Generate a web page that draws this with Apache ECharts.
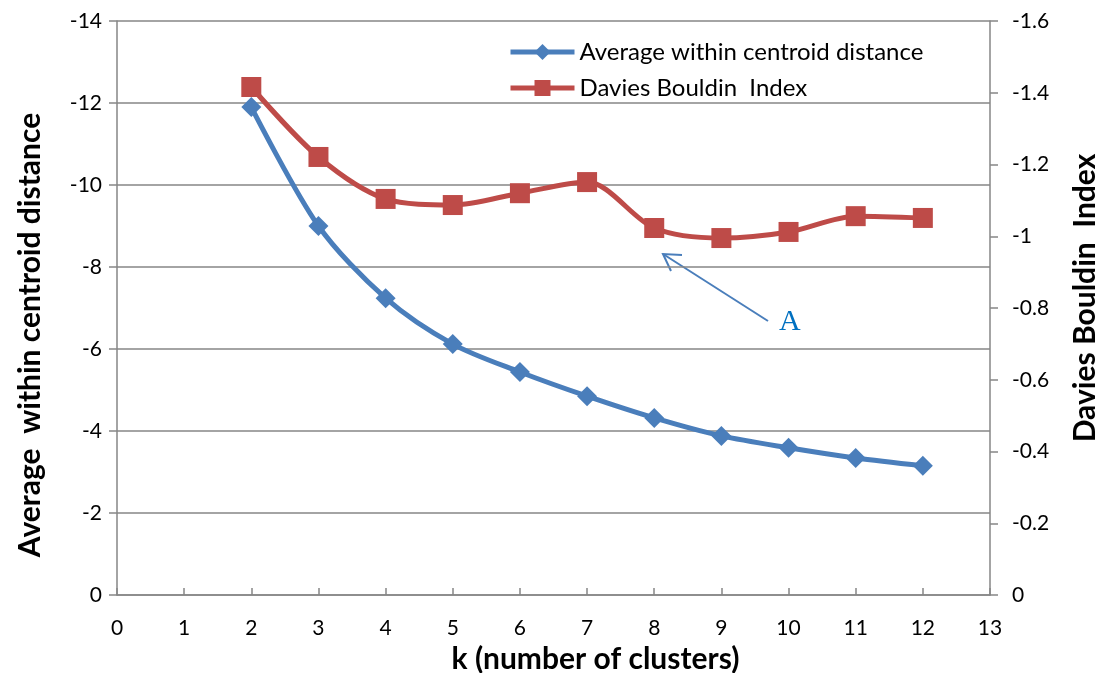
<!DOCTYPE html>
<html><head><meta charset="utf-8">
<script src="https://cdn.jsdelivr.net/npm/echarts@6/dist/echarts.min.js"></script>
<style>html,body{margin:0;padding:0;background:#fff}#c{width:1100px;height:673px}</style>
</head><body><div id="c"></div>
<script>
const kValues = [2,3,4,5,6,7,8,9,10,11,12];
const avgWithinCentroid = [-11.9,-9.0,-7.24,-6.12,-5.44,-4.85,-4.32,-3.88,-3.59,-3.34,-3.15];
const daviesBouldin = [-1.416,-1.221,-1.104,-1.087,-1.12,-1.151,-1.023,-0.995,-1.012,-1.056,-1.051];
const seriesNames = ['Average within centroid distance','Davies Bouldin  Index'];

const FONT = 'Lato, "Open Sans", sans-serif';
const chart = echarts.init(document.getElementById('c'));
const axisGray = '#868686';
chart.setOption({
  animation:false,
  textStyle:{fontFamily:FONT},
  grid:{left:117,right:110,top:21,bottom:78,outerBoundsMode:'none',containLabel:false},
  legend:{
    orient:'vertical', left:503, top:35, itemGap:12,
    itemWidth:64, itemHeight:20,
    lineStyle:{width:5},
    textStyle:{fontSize:24,color:'#000',fontFamily:FONT},
    data:seriesNames
  },
  xAxis:{
    type:'value', min:0, max:13, interval:1,
    name:'k (number of clusters)', nameLocation:'middle', nameGap:49,
    nameTextStyle:{fontSize:30,fontWeight:'bold',color:'#000',padding:[0,0,0,84]},
    axisLine:{lineStyle:{color:axisGray,width:1.5}},
    axisTick:{inside:true,length:7,lineStyle:{color:axisGray,width:1.5}},
    axisLabel:{fontSize:21,color:'#000',margin:23},
    splitLine:{show:false}
  },
  yAxis:[{
    type:'value', min:-14, max:0, interval:2, inverse:true, position:'left',
    name:'Average  within centroid distance', nameLocation:'middle', nameGap:72, nameRotate:90,
    nameTextStyle:{fontSize:30,fontWeight:'bold',color:'#000',padding:[0,54,0,0]},
    axisLine:{show:true,lineStyle:{color:axisGray,width:1.5}},
    axisTick:{show:true,length:8,lineStyle:{color:axisGray,width:1.5}},
    axisLabel:{fontSize:21,color:'#000',margin:15},
    splitLine:{show:true,lineStyle:{color:axisGray,width:1.5}}
  },{
    type:'value', min:-1.6, max:0, interval:0.2, inverse:true, position:'right',
    name:'Davies Bouldin  Index', nameLocation:'middle', nameGap:80, nameRotate:90,
    nameTextStyle:{fontSize:30,fontWeight:'bold',color:'#000',padding:[0,0,0,20]},
    axisLine:{show:true,lineStyle:{color:axisGray,width:1.5}},
    axisTick:{show:true,length:8,lineStyle:{color:axisGray,width:1.5}},
    axisLabel:{fontSize:21,color:'#000',margin:22,formatter:v=>String(Math.round(v*10)/10)},
    splitLine:{show:false}
  }],
  series:[{
    name:seriesNames[0], type:'line', yAxisIndex:0, smooth:0.3,
    data:kValues.map((k,i)=>[k,avgWithinCentroid[i]]),
    symbol:'diamond', symbolSize:20,
    lineStyle:{color:'#4A7EBB',width:5},
    itemStyle:{color:'#4A7EBB'}
  },{
    name:seriesNames[1], type:'line', yAxisIndex:1, smooth:0.3,
    data:kValues.map((k,i)=>[k,daviesBouldin[i]]),
    symbol:'rect', symbolSize:20,
    lineStyle:{color:'#BE4B48',width:5},
    itemStyle:{color:'#BE4B48'}
  }],
  graphic:[{
    type:'line', shape:{x1:768,y1:321,x2:663,y2:254},
    style:{stroke:'#4A7EBB',lineWidth:2}
  },{
    type:'polyline', shape:{points:[[682,255],[663,254],[671,271]]},
    style:{stroke:'#4A7EBB',lineWidth:2,fill:null}
  },{
    type:'text', left:779, top:307,
    style:{text:'A',font:'30px "Liberation Serif", serif',fill:'#0070C0'}
  }]
});
</script></body></html>
